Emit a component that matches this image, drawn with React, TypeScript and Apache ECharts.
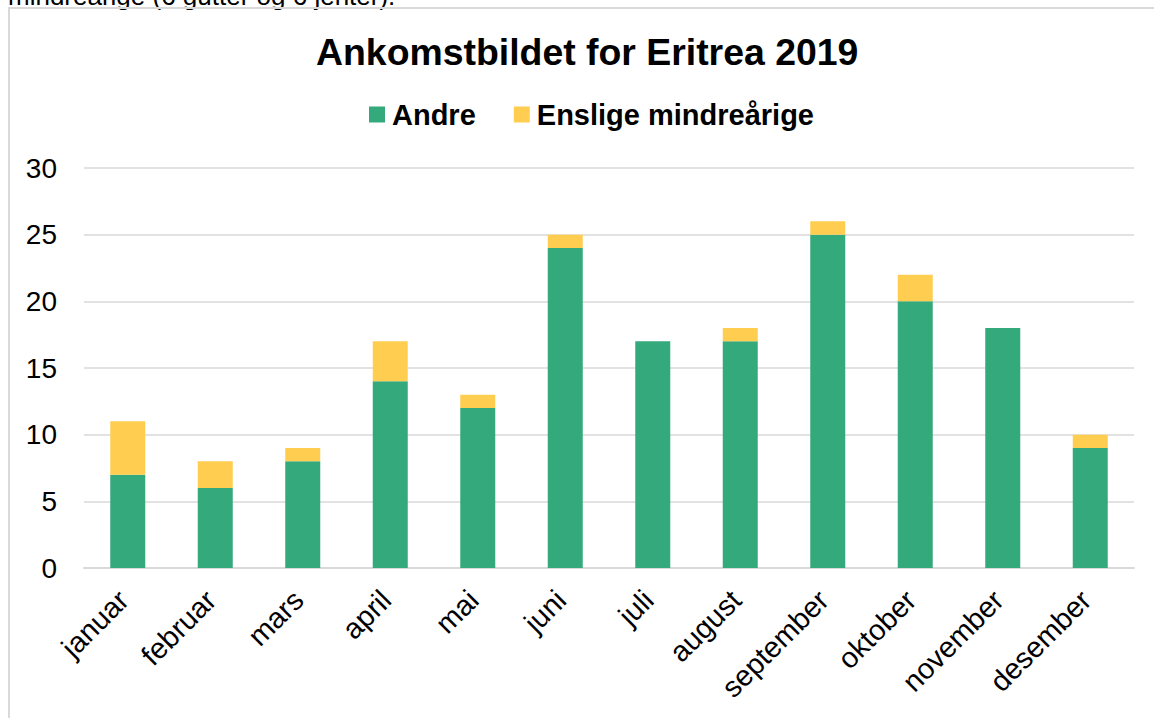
import React, { useEffect, useRef } from "react";
import * as echarts from "echarts";

const months = ["januar", "februar", "mars", "april", "mai", "juni", "juli", "august", "september", "oktober", "november", "desember"];
const andre = [7, 6, 8, 14, 12, 24, 17, 17, 25, 20, 18, 9];
const enslige = [4, 2, 1, 3, 1, 1, 0, 1, 1, 2, 0, 1];
const yTicks = { min: 0, max: 30, interval: 5 };

const FONT = "'Liberation Sans', Arial, sans-serif";

export default function App() {
  const ref = useRef<HTMLDivElement>(null);
  useEffect(() => {
    if (!ref.current) return;
    const chart = echarts.init(ref.current, null, { renderer: "svg" });
    chart.setOption({
      animation: false,
      backgroundColor: "#ffffff",
      textStyle: { fontFamily: FONT },
      title: {
        text: "Ankomstbildet for Eritrea 2019",
        left: 311,
        top: 28,
        textStyle: { fontFamily: FONT, fontSize: 37.4, fontWeight: "bold", color: "#000" },
      },
      legend: {
        top: 95,
        left: 364,
        itemWidth: 16,
        itemHeight: 16,
        itemGap: 38,
        icon: "rect",
        textStyle: { fontFamily: FONT, fontSize: 29, fontWeight: "bold", color: "#000", padding: [0, 0, 0, 2] },
        data: ["Andre", "Enslige mindreårige"],
      },
      graphic: [
        {
          type: "text",
          style: { x: 8, y: 9, verticalAlign: "bottom", text: "mindreårige (6 gutter og 6 jenter).", font: `26px ${FONT}`, fill: "#000" },
        },
        {
          type: "rect",
          shape: { x: 9, y: 8, width: 1300, height: 900 },
          style: { fill: "none", stroke: "#d9d9d9", lineWidth: 2 },
          silent: true,
        },
      ],
      grid: { left: 84, right: 20, top: 168, bottom: 150, containLabel: false },
      xAxis: {
        type: "category",
        data: months,
        axisLine: { show: true, lineStyle: { color: "#d9d9d9", width: 2 } },
        axisTick: { show: false },
        axisLabel: { rotate: 45, fontSize: 29, color: "#000", fontFamily: FONT, margin: 23, padding: [0, 6, 0, 0], interval: 0 },
      },
      yAxis: {
        type: "value",
        min: yTicks.min,
        max: yTicks.max,
        interval: yTicks.interval,
        axisLine: { show: false },
        axisTick: { show: false },
        splitLine: { lineStyle: { color: "#d9d9d9", width: 1.5 } },
        axisLabel: { fontSize: 28, color: "#000", fontFamily: FONT, margin: 27 },
      },
      series: [
        {
          name: "Andre",
          type: "bar",
          stack: "total",
          data: andre,
          barWidth: "40%",
          itemStyle: { color: "#34a97b" },
        },
        {
          name: "Enslige mindreårige",
          type: "bar",
          stack: "total",
          data: enslige,
          barWidth: "40%",
          itemStyle: { color: "#ffcd50" },
        },
      ],
    });
    return () => chart.dispose();
  }, []);
  return <div ref={ref} style={{ position: "absolute", left: 0, top: 0, width: 1154, height: 718 }} />;
}
